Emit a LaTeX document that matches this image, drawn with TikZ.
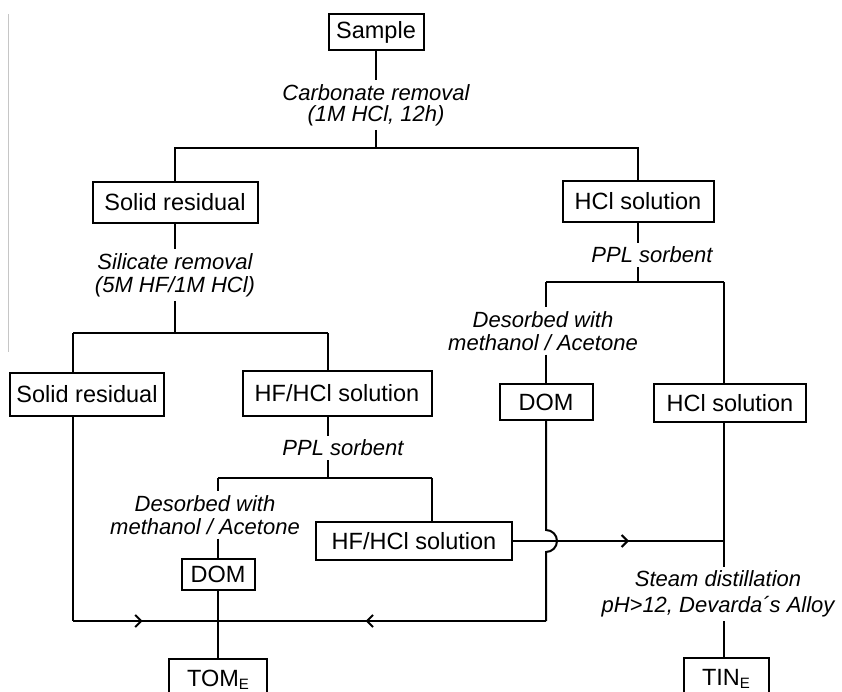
\documentclass[tikz,border=0pt]{standalone}
\usepackage{fontspec}
\setmainfont{Liberation Sans}
\usetikzlibrary{positioning,arrows.meta,decorations.markings}

\newcommand{\subE}{\raisebox{-0.25ex}{\fontsize{15}{15}\selectfont E}}

\tikzset{
  box/.style={draw, inner sep=0pt, minimum height=41pt, font=\fontsize{23.5}{26}\selectfont},
  lbl/.style={align=center, inner sep=3pt, font=\fontsize{22}{23}\selectfont\itshape},
  midarrow/.style={postaction={decorate}, decoration={markings,
      mark=at position #1 with {\arrow{Straight Barb[length=6pt,width=12pt,line width=2pt]}}}},
}

\begin{document}
\begin{tikzpicture}[x=1pt,y=-1pt,line width=2pt]
    \useasboundingbox (0,0) rectangle (842,691);
    \clip (0,0) rectangle (842,691);

    \draw[gray!45, line width=1pt] (8,14) -- (8,352);

    \node[box,minimum width=95pt,minimum height=36pt] (sample) at (376,32) {Sample};
    \node[lbl,font=\fontsize{22}{21}\selectfont\itshape] (carb) at (376,105) {Carbonate removal\\(1M HCl, 12h)};
    \node[box,minimum width=165pt] (solid1) at (175,202) {Solid residual};
    \node[box,minimum width=151pt] (hcl1) at (638,201) {HCl solution};
    \node[lbl] (sil) at (175,275) {Silicate removal\\(5M HF/1M HCl)};
    \node[lbl] (pplR) at (652,255) {PPL sorbent};
    \node[lbl] (desR) at (543,331) {Desorbed with\\methanol / Acetone};
    \node[box,minimum width=154pt,minimum height=43pt] (solid2) at (87,394) {Solid residual};
    \node[box,minimum width=189pt,minimum height=45pt] (hfhcl1) at (337,393) {HF/HCl solution};
    \node[box,minimum width=93pt,minimum height=36pt] (domR) at (546,402) {DOM};
    \node[box,minimum width=152pt,minimum height=38pt] (hcl2) at (730,403) {HCl solution};
    \node[lbl] (pplL) at (343,448) {PPL sorbent};
    \node[lbl] (desL) at (205,515) {Desorbed with\\methanol / Acetone};
    \node[box,minimum width=196pt,minimum height=38pt] (hfhcl2) at (414,541) {HF/HCl solution};
    \node[box,minimum width=73pt,minimum height=31pt] (domL) at (218,574.5) {DOM};
    \node[lbl,font=\fontsize{22}{26}\selectfont\itshape] (steam) at (718,594) {Steam distillation\\pH>12, Devarda´s Alloy};
    \node[box,minimum width=98pt] (tom) at (218,679.5) {TOM\subE};
    \node[box,minimum width=85pt] (tin) at (726,678.5) {TIN\subE};

    \coordinate (b1) at (376,148);
    \coordinate (b2) at (175,333);
    \coordinate (b2l) at (73,333);
    \coordinate (b2r) at (328,333);
    \coordinate (b3) at (638,282);
    \coordinate (b3l) at (546,282);
    \coordinate (b3r) at (724,282);
    \coordinate (b4) at (328,478);
    \coordinate (b4l) at (218,478);
    \coordinate (b4r) at (432,478);
    \coordinate (c1) at (73,621);
    \coordinate (jt) at (218,621);
    \coordinate (c2) at (546,621);
    \coordinate (hop) at (546,541);
    \coordinate (j2) at (724,541);

    % first split
    \draw (sample) -- (carb);
    \draw (carb) -- (b1);
    \draw (b1) -| (solid1);
    \draw (b1) -| (hcl1);

    % solid residual branch
    \draw (solid1) -- (sil);
    \draw (sil) -- (b2);
    \draw (b2l) -- (b2r);
    \draw (b2l) -- (b2l |- solid2.north);
    \draw (b2r) -- (b2r |- hfhcl1.north);

    % HCl solution branch
    \draw (hcl1.south) -- (hcl1.south |- pplR.north);
    \draw (pplR.south -| b3) -- (b3);
    \draw (b3l) -- (b3r);
    \draw (b3l) -- (b3l |- desR.north);
    \draw (desR.south -| b3l) -- (domR);
    \draw (b3r) -- (b3r |- hcl2.north);

    % HF/HCl solution branch
    \draw (hfhcl1.south -| b2r) -- (b2r |- pplL.north);
    \draw (pplL.south -| b4) -- (b4);
    \draw (b4l) -- (b4r);
    \draw (b4l) -- (b4l |- desL.north);
    \draw (b4r) -- (b4r |- hfhcl2.north);
    \draw (desL.south -| b4l) -- (domL);
    \draw (domL) -- (tom);

    % collecting lines
    \draw (solid2.south -| c1) -- (c1);
    \draw[midarrow=0.48] (c1) -- (jt);
    \draw (domR) -- ([yshift=11pt]hop) arc[start angle=90, end angle=-90, radius=11pt] -- (c2);
    \draw[midarrow=0.55] (c2) -- (jt);
    \draw[midarrow=0.55] (hfhcl2) -- (j2);
    \draw (hcl2.south -| j2) -- (j2) -- (j2 |- steam.north);
    \draw (steam.south -| j2) -- (j2 |- tin.north);
\end{tikzpicture}
\end{document}
